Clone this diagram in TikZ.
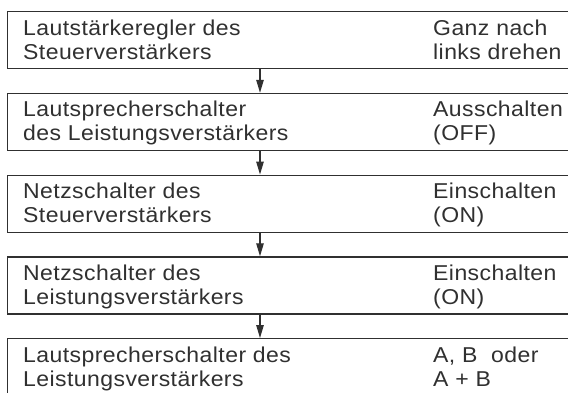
\documentclass[tikz,border=0pt]{standalone}
\usepackage{fontspec}
\setmainfont{Liberation Sans}[FakeStretch=1.07,LetterSpace=2]
\usetikzlibrary{arrows.meta}
\definecolor{ink}{HTML}{303030}
\begin{document}
\begin{tikzpicture}[x=1pt,y=-1pt,
  stepbox/.style={draw=ink, line width=1.3pt, rectangle, minimum width=590pt, minimum height=57pt, anchor=north west, inner sep=0pt},
  lbl/.style={anchor=base west, inner sep=0pt, text=ink, font=\fontsize{21.5}{24}\selectfont},
  flow/.style={draw=ink, line width=1.2pt, -{Triangle[length=13pt,width=7.5pt]}}]
\useasboundingbox (0,0) rectangle (568,392);
\fill[white] (0,0) rectangle (568,392);
\coordinate (ax) at (260,0);
% boxes
\node[stepbox] (b1) at (7,11) {};
\node[stepbox] (b2) at (7,92.75) {};
\node[stepbox] (b3) at (7,174.5) {};
\node[stepbox] (b4) at (7,256.25) {};
\node[stepbox] (b5) at (7,338) {};
% texts box 1
\node[lbl] (l1a) at (23,35) {Lautstärkeregler des};
\node[lbl] (l1b) at (23,59) {Steuerverstärkers};
\node[lbl] (r1a) at (433,35) {Ganz nach};
\node[lbl] (r1b) at (433,59) {links drehen};
% box 2
\node[lbl] (l2a) at (23,116.75) {Lautsprecherschalter};
\node[lbl] (l2b) at (23,140.75) {des Leistungsverstärkers};
\node[lbl] (r2a) at (433,116.75) {Ausschalten};
\node[lbl] (r2b) at (433,140.75) {(OFF)};
% box 3
\node[lbl] (l3a) at (23,198.5) {Netzschalter des};
\node[lbl] (l3b) at (23,222.5) {Steuerverstärkers};
\node[lbl] (r3a) at (433,198.5) {Einschalten};
\node[lbl] (r3b) at (433,222.5) {(ON)};
% box 4
\node[lbl] (l4a) at (23,280.25) {Netzschalter des};
\node[lbl] (l4b) at (23,304.25) {Leistungsverstärkers};
\node[lbl] (r4a) at (433,280.25) {Einschalten};
\node[lbl] (r4b) at (433,304.25) {(ON)};
% box 5
\node[lbl] (l5a) at (23,362) {Lautsprecherschalter des};
\node[lbl] (l5b) at (23,386) {Leistungsverstärkers};
\node[lbl] (r5a) at (433,362) {A, B\ \ oder};
\node[lbl] (r5b) at (433,386) {A + B};
% arrows
\draw[flow] (b1.south -| ax) -- (b2.north -| ax);
\draw[flow] (b2.south -| ax) -- (b3.north -| ax);
\draw[flow] (b3.south -| ax) -- (b4.north -| ax);
\draw[flow] (b4.south -| ax) -- (b5.north -| ax);
\end{tikzpicture}
\end{document}
